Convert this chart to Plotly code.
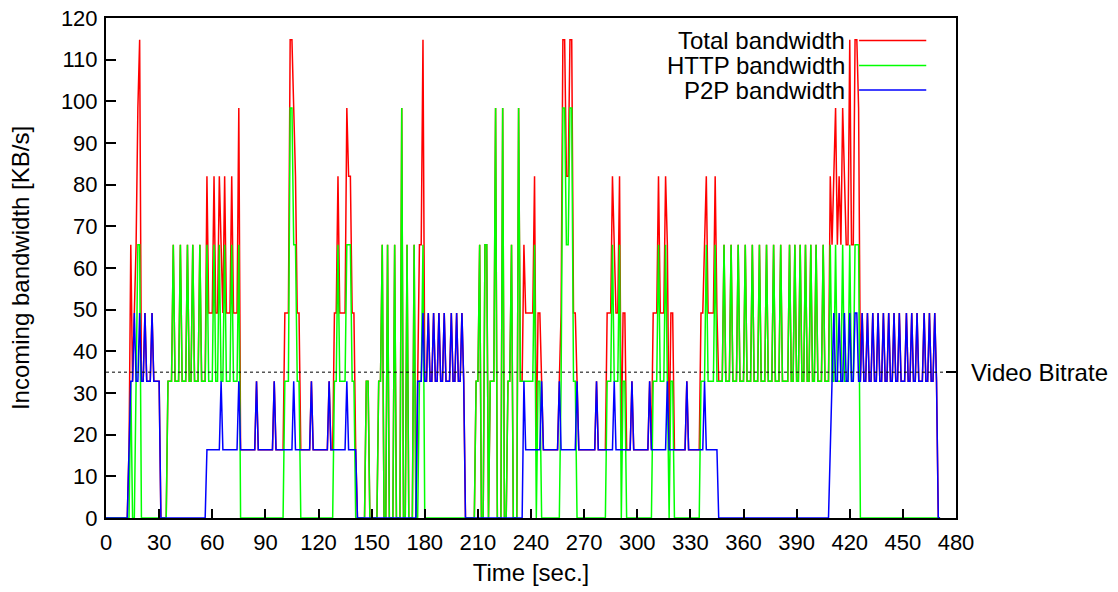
import plotly.graph_objects as go

# Per-second incoming bandwidth samples [KB/s]
time_sec = list(range(472))

p2p_kbs = [
    0, 0, 0, 0, 0, 0, 0, 0, 0, 0,
    0, 0, 0, 16.4, 32.8, 32.8, 49.2, 32.8, 32.8, 49.2,
    32.8, 32.8, 49.2, 32.8, 32.8, 32.8, 49.2, 32.8, 32.8, 32.8,
    32.8, 0, 0, 0, 0, 0, 0, 0, 0, 0,
    0, 0, 0, 0, 0, 0, 0, 0, 0, 0,
    0, 0, 0, 0, 0, 0, 0, 16.4, 16.4, 16.4,
    16.4, 16.4, 16.4, 16.4, 16.4, 32.8, 16.4, 16.4, 16.4, 16.4,
    16.4, 16.4, 16.4, 16.4, 16.4, 32.8, 16.4, 16.4, 16.4, 16.4,
    16.4, 16.4, 16.4, 16.4, 16.4, 32.8, 16.4, 16.4, 16.4, 16.4,
    16.4, 16.4, 16.4, 16.4, 16.4, 32.8, 16.4, 16.4, 16.4, 16.4,
    16.4, 16.4, 16.4, 16.4, 16.4, 16.4, 32.8, 16.4, 16.4, 16.4,
    16.4, 16.4, 16.4, 16.4, 16.4, 16.4, 32.8, 16.4, 16.4, 16.4,
    16.4, 16.4, 16.4, 16.4, 16.4, 16.4, 32.8, 16.4, 16.4, 16.4,
    16.4, 16.4, 16.4, 16.4, 16.4, 16.4, 32.8, 16.4, 16.4, 16.4,
    16.4, 16.4, 0, 0, 0, 0, 0, 0, 0, 0,
    0, 0, 0, 0, 0, 0, 0, 0, 0, 0,
    0, 0, 0, 0, 0, 0, 0, 0, 0, 0,
    0, 0, 0, 0, 0, 0, 32.8, 32.8, 32.8, 49.2,
    32.8, 32.8, 49.2, 32.8, 32.8, 49.2, 32.8, 32.8, 49.2, 32.8,
    32.8, 49.2, 32.8, 32.8, 32.8, 49.2, 32.8, 32.8, 49.2, 32.8,
    32.8, 49.2, 32.8, 0, 0, 0, 0, 0, 0, 0,
    0, 0, 0, 0, 0, 0, 0, 0, 0, 0,
    0, 0, 0, 0, 0, 0, 0, 0, 0, 0,
    0, 0, 0, 0, 0, 0, 32.8, 16.4, 16.4, 16.4,
    16.4, 16.4, 16.4, 16.4, 16.4, 16.4, 32.8, 16.4, 16.4, 16.4,
    16.4, 16.4, 16.4, 16.4, 16.4, 16.4, 32.8, 16.4, 16.4, 16.4,
    16.4, 16.4, 16.4, 16.4, 16.4, 16.4, 32.8, 16.4, 16.4, 16.4,
    16.4, 16.4, 16.4, 16.4, 16.4, 16.4, 16.4, 32.8, 16.4, 16.4,
    16.4, 16.4, 16.4, 16.4, 16.4, 16.4, 16.4, 32.8, 16.4, 16.4,
    16.4, 16.4, 16.4, 16.4, 16.4, 16.4, 16.4, 32.8, 16.4, 16.4,
    16.4, 16.4, 16.4, 16.4, 16.4, 16.4, 16.4, 32.8, 16.4, 16.4,
    16.4, 16.4, 16.4, 16.4, 16.4, 16.4, 16.4, 32.8, 16.4, 16.4,
    16.4, 16.4, 16.4, 16.4, 16.4, 16.4, 16.4, 16.4, 32.8, 16.4,
    16.4, 16.4, 16.4, 16.4, 16.4, 16.4, 16.4, 16.4, 32.8, 16.4,
    16.4, 16.4, 16.4, 16.4, 16.4, 16.4, 0, 0, 0, 0,
    0, 0, 0, 0, 0, 0, 0, 0, 0, 0,
    0, 0, 0, 0, 0, 0, 0, 0, 0, 0,
    0, 0, 0, 0, 0, 0, 0, 0, 0, 0,
    0, 0, 0, 0, 0, 0, 0, 0, 0, 0,
    0, 0, 0, 0, 0, 0, 0, 0, 0, 0,
    0, 0, 0, 0, 0, 0, 0, 0, 0, 16.4,
    32.8, 49.2, 32.8, 32.8, 49.2, 32.8, 32.8, 49.2, 32.8, 32.8,
    49.2, 32.8, 32.8, 49.2, 49.2, 32.8, 32.8, 49.2, 32.8, 32.8,
    49.2, 32.8, 32.8, 49.2, 32.8, 32.8, 49.2, 32.8, 32.8, 49.2,
    32.8, 32.8, 49.2, 32.8, 32.8, 49.2, 32.8, 32.8, 49.2, 32.8,
    32.8, 32.8, 49.2, 32.8, 32.8, 49.2, 32.8, 32.8, 49.2, 32.8,
    32.8, 32.8, 49.2, 32.8, 32.8, 49.2, 32.8, 32.8, 49.2, 32.8,
    0, 0,
]

http_kbs = [
    0, 0, 0, 0, 0, 0, 0, 0, 0, 0,
    0, 0, 0, 0, 32.8, 0, 0, 32.8, 65.6, 65.6,
    0, 0, 0, 0, 0, 0, 0, 0, 0, 0,
    0, 0, 0, 0, 0, 32.8, 32.8, 32.8, 65.6, 32.8,
    32.8, 32.8, 65.6, 32.8, 32.8, 32.8, 65.6, 32.8, 32.8, 65.6,
    32.8, 32.8, 32.8, 65.6, 32.8, 32.8, 32.8, 65.6, 32.8, 32.8,
    32.8, 65.6, 32.8, 32.8, 65.6, 32.8, 32.8, 65.6, 32.8, 32.8,
    32.8, 65.6, 32.8, 32.8, 32.8, 65.6, 0, 0, 0, 0,
    0, 0, 0, 0, 0, 0, 0, 0, 0, 0,
    0, 0, 0, 0, 0, 0, 0, 0, 0, 0,
    0, 32.8, 32.8, 32.8, 98.4, 98.4, 65.6, 65.6, 32.8, 32.8,
    0, 0, 0, 0, 0, 0, 0, 0, 0, 0,
    0, 0, 0, 0, 0, 0, 0, 0, 0, 32.8,
    32.8, 65.6, 32.8, 32.8, 32.8, 32.8, 65.6, 65.6, 65.6, 32.8,
    32.8, 0, 0, 0, 0, 0, 0, 32.8, 32.8, 0,
    0, 0, 0, 0, 32.8, 32.8, 65.6, 0, 0, 65.6,
    0, 0, 0, 65.6, 0, 0, 0, 98.4, 0, 0,
    65.6, 0, 0, 0, 65.6, 0, 0, 32.8, 32.8, 65.6,
    0, 0, 0, 0, 0, 0, 0, 0, 0, 0,
    0, 0, 0, 0, 0, 0, 0, 0, 0, 0,
    0, 0, 0, 0, 0, 0, 0, 0, 0, 32.8,
    32.8, 65.6, 0, 0, 65.6, 65.6, 0, 32.8, 32.8, 32.8,
    98.4, 0, 0, 0, 98.4, 0, 0, 32.8, 32.8, 65.6,
    0, 0, 0, 98.4, 32.8, 32.8, 32.8, 32.8, 32.8, 32.8,
    32.8, 32.8, 65.6, 0, 32.8, 32.8, 0, 0, 0, 0,
    0, 0, 0, 0, 0, 0, 0, 32.8, 98.4, 98.4,
    65.6, 65.6, 98.4, 98.4, 32.8, 32.8, 0, 0, 0, 0,
    0, 0, 0, 0, 0, 0, 0, 0, 0, 0,
    0, 0, 0, 32.8, 32.8, 32.8, 65.6, 32.8, 32.8, 32.8,
    65.6, 0, 32.8, 32.8, 0, 0, 0, 0, 0, 0,
    0, 0, 0, 0, 0, 0, 0, 0, 0, 32.8,
    32.8, 32.8, 65.6, 32.8, 32.8, 32.8, 65.6, 32.8, 0, 32.8,
    32.8, 0, 0, 0, 0, 0, 0, 0, 0, 0,
    0, 0, 0, 0, 0, 0, 32.8, 32.8, 32.8, 65.6,
    32.8, 32.8, 32.8, 32.8, 65.6, 32.8, 32.8, 32.8, 32.8, 65.6,
    32.8, 32.8, 32.8, 65.6, 32.8, 32.8, 32.8, 65.6, 32.8, 32.8,
    32.8, 65.6, 32.8, 32.8, 32.8, 65.6, 32.8, 32.8, 32.8, 65.6,
    32.8, 32.8, 32.8, 65.6, 32.8, 32.8, 32.8, 65.6, 32.8, 32.8,
    32.8, 65.6, 32.8, 32.8, 32.8, 32.8, 65.6, 32.8, 32.8, 65.6,
    32.8, 32.8, 65.6, 32.8, 32.8, 65.6, 32.8, 32.8, 65.6, 32.8,
    32.8, 65.6, 32.8, 32.8, 32.8, 65.6, 32.8, 32.8, 32.8, 65.6,
    32.8, 32.8, 65.6, 32.8, 32.8, 32.8, 65.6, 32.8, 32.8, 32.8,
    65.6, 32.8, 32.8, 65.6, 65.6, 65.6, 0, 0, 0, 0,
    0, 0, 0, 0, 0, 0, 0, 0, 0, 0,
    0, 0, 0, 0, 0, 0, 0, 0, 0, 0,
    0, 0, 0, 0, 0, 0, 0, 0, 0, 0,
    0, 0, 0, 0, 0, 0, 0, 0, 0, 0,
    0, 0,
]

# Total incoming bandwidth is the sum of both sources
total_kbs = [round(h + p, 1) for h, p in zip(http_kbs, p2p_kbs)]

VIDEO_BITRATE = 35
X_RANGE = [0, 480]
Y_RANGE = [0, 120]

series = [
    ("Total bandwidth", total_kbs, "#ff0000"),
    ("HTTP bandwidth", http_kbs, "#00ff00"),
    ("P2P bandwidth", p2p_kbs, "#0000ff"),
]

FONT = "Liberation Sans, Arial, sans-serif"
FS = 22
TITLE_FS = 24

fig = go.Figure()

# video bitrate reference (dotted), drawn on the secondary y axis
fig.add_trace(go.Scatter(
    x=X_RANGE, y=[VIDEO_BITRATE, VIDEO_BITRATE], mode="lines",
    line=dict(color="black", width=1, dash="dot"),
    yaxis="y2", showlegend=False, hoverinfo="skip",
))

for name, vals, color in series:
    fig.add_trace(go.Scatter(
        x=time_sec, y=vals, mode="lines", name=name,
        line=dict(color=color, width=1.5),
        showlegend=False,
    ))

# gnuplot-style key: right-aligned text with the line sample to its right
key_rows_y = [0.955, 0.905, 0.856]
for (name, _, color), ky in zip(series, key_rows_y):
    fig.add_annotation(
        x=0.872, y=ky, xref="paper", yref="paper", text=name,
        showarrow=False, xanchor="right", yanchor="middle",
        font=dict(family=FONT, size=TITLE_FS, color="black"),
    )
    fig.add_shape(
        type="line", xref="paper", yref="paper",
        x0=0.886, x1=0.965, y0=ky, y1=ky,
        line=dict(color=color, width=1.5),
    )

fig.update_layout(
    width=1118, height=592,
    margin=dict(l=106, r=162, t=18, b=74),
    paper_bgcolor="white", plot_bgcolor="white",
    font=dict(family=FONT, size=FS, color="black"),
    xaxis=dict(
        range=X_RANGE, tickmode="linear", tick0=0, dtick=30,
        ticks="inside", ticklen=9, tickwidth=1.5, tickcolor="black",
        showline=True, linecolor="black", linewidth=2, mirror=True,
        showgrid=False, zeroline=False, automargin=False,
        ticklabelstandoff=4,
        title=dict(text="Time [sec.]", standoff=10,
                   font=dict(family=FONT, size=TITLE_FS)),
    ),
    yaxis=dict(
        range=Y_RANGE, tickmode="linear", tick0=0, dtick=10,
        ticks="inside", ticklen=10, tickwidth=1.5, tickcolor="black",
        showline=True, linecolor="black", linewidth=2, mirror=True,
        showgrid=False, zeroline=False, automargin=False,
        ticklabelstandoff=2,
        title=dict(text="Incoming bandwidth [KB/s]", standoff=24,
                   font=dict(family=FONT, size=TITLE_FS)),
    ),
    yaxis2=dict(
        range=Y_RANGE, overlaying="y", side="right",
        tickvals=[VIDEO_BITRATE], ticktext=["Video Bitrate"],
        tickfont=dict(family=FONT, size=TITLE_FS),
        ticks="inside", ticklen=10, tickwidth=1.5, tickcolor="black",
        showline=False, showgrid=False, zeroline=False, automargin=False,
        ticklabelstandoff=14,
    ),
)

fig.write_html("out.html")
